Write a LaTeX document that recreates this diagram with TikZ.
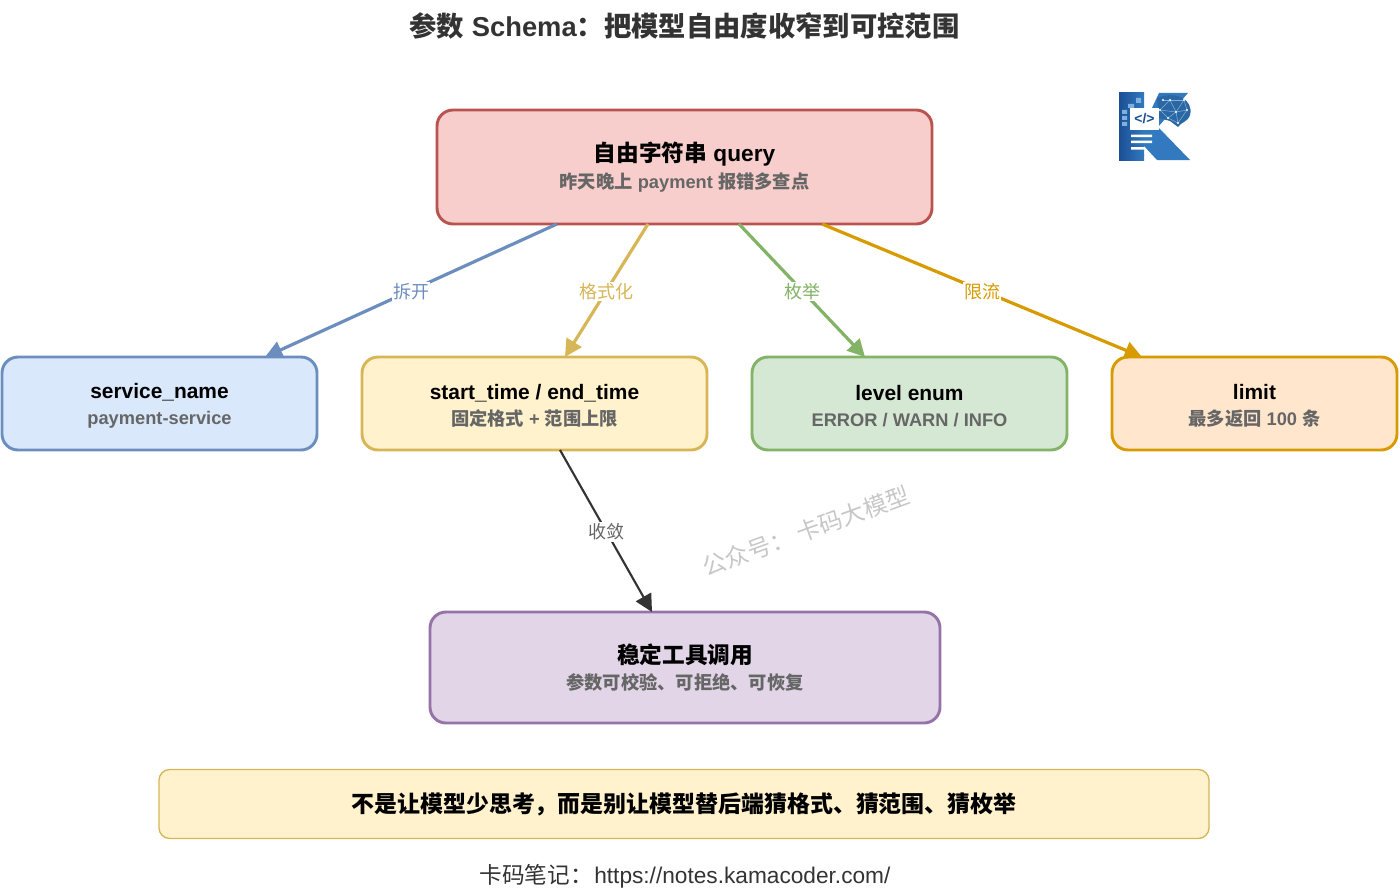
\documentclass[tikz,border=0pt]{standalone}
\usepackage{fontspec}
\setmainfont{Liberation Sans}
\newfontfamily\cjk{Noto Sans CJK SC}
\usetikzlibrary{positioning}
\usetikzlibrary{arrows.meta}
\newcommand{\zh}[1]{{\cjk #1}}
\newcommand{\px}{0.75pt}
\newcommand{\boxtext}[2]{{\fontsize{17}{21.6}\selectfont\color{black}#1}\\#2}
\newcommand{\rowtext}[2]{\rule{0pt}{15pt}{\fontsize{15.7}{19.8}\selectfont\color{black}#1}\\#2}
\definecolor{subgray}{HTML}{666666}
\definecolor{inkgray}{HTML}{333333}
\definecolor{logoblue}{HTML}{3279C0}
\definecolor{logodark}{HTML}{1B4F94}
\definecolor{logopale}{HTML}{7FB0DE}
\definecolor{redline}{HTML}{B85450}
\definecolor{blueline}{HTML}{6C8EBF}
\definecolor{yellowline}{HTML}{D6B656}
\definecolor{greenline}{HTML}{82B366}
\definecolor{orangeline}{HTML}{D79B00}
\definecolor{purpleline}{HTML}{9673A6}
\tikzset{
  card/.style={draw, rounded corners=12pt, line width=2.2pt, outer sep=0pt, align=center,
    text=subgray, font=\bfseries\fontsize{13.7}{19.8}\selectfont, minimum height=93*\px},
  flow/.style={line width=2.4pt, -{Triangle[length=13pt,width=13pt]}},
  flowlabel/.style={fill=white, inner sep=1pt, yshift=-1*\px, font=\fontsize{13.5}{16}\selectfont}
}
\begin{document}
\begin{tikzpicture}[x=0.75pt, y=-0.75pt]
  \useasboundingbox (0,0) rectangle (1400,892);

  \node (heading) at (684.5,26) [text=inkgray, font=\bfseries\fontsize{20.5}{24}\selectfont]
    {\zh{参数} Schema\zh{：把模型自由度收窄到可控范围}};

  \node (query) at (684.5,167) [card, draw=redline, fill={rgb,255:red,248;green,206;blue,204},
    minimum width=495*\px, minimum height=114*\px]
    {\boxtext{\zh{自由字符串} query}{\zh{昨天晚上} payment \zh{报错多查点}}};

  \node (service) at (159.5,403.5) [card, draw=blueline, fill={rgb,255:red,218;green,232;blue,252},
    minimum width=315*\px]
    {\rowtext{service\_name}{payment-service}};
  \node (range) [right = 45*\px of service, card, draw=yellowline, fill={rgb,255:red,255;green,242;blue,204},
    minimum width=345*\px]
    {\rowtext{start\_time / end\_time}{\zh{固定格式} + \zh{范围上限}}};
  \node (level) [right = 45*\px of range, card, draw=greenline, fill={rgb,255:red,213;green,232;blue,212},
    minimum width=315*\px]
    {\rowtext{level enum}{ERROR / WARN / INFO}};
  \node (limit) [right = 45*\px of level, card, draw=orangeline, fill={rgb,255:red,255;green,230;blue,204},
    minimum width=285*\px]
    {\rowtext{limit}{\zh{最多返回} 100 \zh{条}}};

  \node (stable) at (685,667.5) [card, draw=purpleline, fill={rgb,255:red,225;green,213;blue,231},
    minimum width=510*\px, minimum height=111*\px]
    {\boxtext{\zh{稳定工具调用}}{\zh{参数可校验、可拒绝、可恢复}}};

  \node (note) at (684,804) [draw=yellowline, fill={rgb,255:red,255;green,242;blue,204},
    rounded corners=8pt, line width=1pt, outer sep=0pt, minimum width=1050*\px, minimum height=69*\px,
    font=\bfseries\fontsize{17.2}{20}\selectfont, text=black]
    {\zh{不是让模型少思考，而是别让模型替后端猜格式、猜范围、猜枚举}};

  \node (footer) at (685,876.5) [text=inkgray, font=\fontsize{17}{20}\selectfont]
    {\zh{卡码笔记：}\hspace{1pt}https://notes.kamacoder.com/};

  \node (mark) at (806,531) [rotate=20, text=black!22, font=\fontsize{17.7}{20}\selectfont]
    {\zh{公众号： 卡码大模型}};

  \draw[flow, draw=blueline] ([xshift=-127.5*\px]query.south) -- node[flowlabel, text=blueline] {\zh{拆开}} ([xshift=105.5*\px]service.north);
  \draw[flow, draw=yellowline] ([xshift=-36.5*\px]query.south) -- node[flowlabel, text=yellowline] {\zh{格式化}} ([xshift=30.5*\px]range.north);
  \draw[flow, draw=greenline] ([xshift=54.5*\px]query.south) -- node[flowlabel, text=greenline] {\zh{枚举}} ([xshift=-44.5*\px]level.north);
  \draw[flow, draw=orangeline] ([xshift=137.5*\px]query.south) -- node[flowlabel, text=orangeline] {\zh{限流}} ([xshift=-112.5*\px]limit.north);
  \draw[flow, line width=1.6pt, draw=inkgray] ([xshift=25.5*\px]range.south) -- node[flowlabel, text=subgray] {\zh{收敛}} ([xshift=-33*\px]stable.north);

  % logo
  \shade[left color=logodark, right color=logoblue] (1119,93) rectangle (1144,160);
  \fill[logoblue] (1144,125) -- (1159,93) -- (1188,93) -- (1158,127) -- (1190,160) -- (1157,160) -- (1144,146) -- cycle;
  \fill[logoblue!85!black] (1157,98) .. controls (1176,90) and (1194,100) .. (1190,115) .. controls (1188,122) and (1181,122) .. (1178,127) -- (1170,121) -- (1159,118) -- cycle;
  \foreach \a/\b/\c/\d in {1160/110/1170/100, 1170/100/1184/100, 1170/100/1176/112, 1160/110/1176/112, 1176/112/1187/110, 1184/100/1187/110, 1176/112/1178/123, 1163/100/1170/100, 1184/100/1176/112, 1160/110/1168/118, 1168/118/1176/112, 1168/118/1178/123, 1187/110/1178/123}
    \draw[logopale, line width=0.4pt] (\a,\b) -- (\c,\d);
  \foreach \a/\b in {1160/110, 1170/100, 1184/100, 1176/112, 1187/110, 1178/123, 1168/118, 1163/100}
    \fill[white] (\a,\b) circle (1.2);
  \fill[logopale] (1122,110) rectangle (1127,114) (1122,116) rectangle (1127,120) (1122,122) rectangle (1127,126) (1128,104) rectangle (1134,108) (1136,98) rectangle (1141,103);
  \node[fill=white, inner sep=0pt, minimum width=29*\px, minimum height=22*\px, text=logodark, font=\bfseries\fontsize{10.5}{10}\selectfont] (code) at (1144.5,119) {</>};
  \fill[white] (1131,134.5) rectangle (1152,137) (1131,140.5) rectangle (1152,143) (1131,147) rectangle (1145,149.5);
\end{tikzpicture}
\end{document}
